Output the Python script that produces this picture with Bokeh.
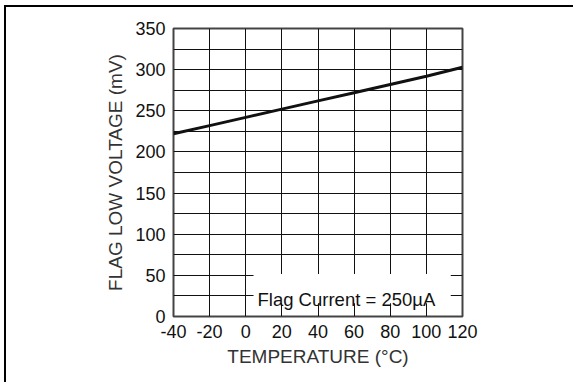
from bokeh.plotting import figure
from bokeh.models import FixedTicker, BoxAnnotation, Label
from bokeh.embed import file_html
from bokeh.resources import INLINE

# Data
temperature = [-40, -20, 0, 20, 40, 60, 80, 100, 120]
flag_low_voltage = [222, 232, 242, 252, 262, 272, 282, 292, 303]

x_ticks = [-40, -20, 0, 20, 40, 60, 80, 100, 120]
x_tick_labels = ["-40", "-20", "0", "20", "40", "60", "80", "100", "120"]
y_ticks = [0, 50, 100, 150, 200, 250, 300, 350]
y_minor = [25, 75, 125, 175, 225, 275, 325]

note_text = "Flag Current = 250µA"
note_box = dict(left=4.3, right=113.5, bottom=16.0, top=51.5)
note_pos = (6.5, 20.5)

FONT = "Liberation Sans"

p = figure(
    frame_width=289, frame_height=288,
    min_border_left=167, min_border_top=21, min_border_right=111, min_border_bottom=66,
    x_range=(-40, 120), y_range=(0, 350),
    output_backend="svg", toolbar_location=None,
)
p.styles = {"margin-left": "4px", "margin-top": "5px",
            "border-top": "2px solid black", "border-left": "2px solid black"}

p.background_fill_color = "white"
p.border_fill_color = "white"
p.outline_line_color = "#444444"
p.outline_line_width = 2

p.xaxis.ticker = FixedTicker(ticks=x_ticks)
p.yaxis.ticker = FixedTicker(ticks=y_ticks, minor_ticks=y_minor)
p.xaxis.major_label_overrides = dict(zip(x_ticks, x_tick_labels))

for ax in (p.xaxis, p.yaxis):
    ax.axis_line_color = None
    ax.major_tick_line_color = None
    ax.minor_tick_line_color = None
    ax.major_tick_out = 0
    ax.minor_tick_out = 0
    ax.major_label_text_font = FONT
    ax.major_label_text_font_size = "18px"
    ax.major_label_text_color = "#111111"
    ax.axis_label_text_font = FONT
    ax.axis_label_text_font_size = "19px"
    ax.axis_label_text_font_style = "normal"
    ax.axis_label_text_color = "#333333"

p.xaxis.axis_label = "TEMPERATURE (°C)"
p.yaxis.axis_label = "FLAG LOW VOLTAGE (mV)"
p.xaxis.major_label_standoff = 8
p.yaxis.major_label_standoff = 8
p.xaxis.axis_label_standoff = 5
p.yaxis.axis_label_standoff = 6

p.xgrid.ticker = FixedTicker(ticks=x_ticks)
p.ygrid.ticker = FixedTicker(ticks=y_ticks, minor_ticks=y_minor)
p.xgrid.grid_line_color = "#111111"
p.ygrid.grid_line_color = "#111111"
p.ygrid.minor_grid_line_color = "#111111"
p.xgrid.grid_line_width = 1
p.ygrid.grid_line_width = 1
p.ygrid.minor_grid_line_width = 1

p.line(temperature, flag_low_voltage, line_color="#111111", line_width=3)

box = BoxAnnotation(fill_color="white", fill_alpha=1.0, line_color=None,
                    level="glyph", **note_box)
p.add_layout(box)

lab = Label(x=note_pos[0], y=note_pos[1], text=note_text,
            text_font=FONT, text_font_size="18.5px", text_color="#111111",
            text_baseline="alphabetic", text_align="left")
p.add_layout(lab)

open("out.html", "w").write(file_html(p, INLINE))
